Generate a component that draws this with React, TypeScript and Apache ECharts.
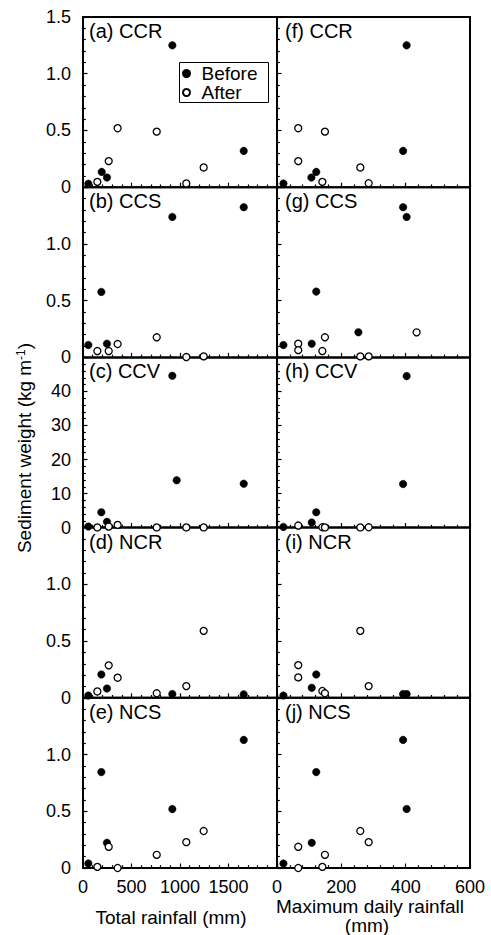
import React, { useEffect, useRef } from 'react';
import * as echarts from 'echarts';

const FONT = '"Liberation Sans", Arial, Helvetica, sans-serif';

// ---------- tick / axis settings ----------
const totalTicks = [0, 500, 1000, 1500, 2000];
const dailyTicks = [0, 200, 400, 600];
const rowMax = [1.5, 1.5, 50, 1.5, 1.5];
const rowInterval = [0.5, 0.5, 10, 0.5, 0.5];

// ---------- (a) CCR, total rainfall ----------
const aBeforeX = [55, 193, 247, 921, 1657];
const aBeforeY = [0.03, 0.135, 0.085, 1.25, 0.32];
const aAfterX = [148, 265, 357, 760, 1065, 1244];
const aAfterY = [0.047, 0.23, 0.52, 0.49, 0.033, 0.174];
// ---------- (f) CCR, max daily rainfall ----------
const fBeforeX = [20, 107, 122, 403, 392];
const fBeforeY = [0.033, 0.085, 0.135, 1.25, 0.32];
const fAfterX = [66, 66, 149, 141, 259, 285];
const fAfterY = [0.52, 0.23, 0.49, 0.047, 0.174, 0.035];

// ---------- (b) CCS ----------
const bBeforeX = [55, 189, 247, 921, 1657];
const bBeforeY = [0.109, 0.577, 0.121, 1.238, 1.324];
const bAfterX = [148, 265, 357, 760, 1065, 1244];
const bAfterY = [0.056, 0.056, 0.118, 0.177, 0.003, 0.009];
// ---------- (g) CCS ----------
const gBeforeX = [20, 108, 122, 253, 392, 403];
const gBeforeY = [0.109, 0.121, 0.58, 0.221, 1.324, 1.238];
const gAfterX = [66, 66, 149, 141, 259, 285, 434];
const gAfterY = [0.121, 0.064, 0.177, 0.056, 0.009, 0.009, 0.221];

// ---------- (c) CCV ----------
const cBeforeX = [55, 189, 247, 921, 966, 1657];
const cBeforeY = [0.3, 4.5, 1.7, 44.6, 13.9, 12.9];
const cAfterX = [148, 265, 357, 760, 1065, 1244];
const cAfterY = [0.05, 0.3, 0.8, 0.05, 0.05, 0.05];
// ---------- (h) CCV ----------
const hBeforeX = [20, 108, 122, 392, 403];
const hBeforeY = [0.2, 1.5, 4.5, 12.8, 44.5];
const hAfterX = [66, 141, 149, 259, 285];
const hAfterY = [0.6, 0.1, 0.05, 0.05, 0.1];

// ---------- (d) NCR ----------
const dBeforeX = [55, 189, 247, 921, 1657];
const dBeforeY = [0.02, 0.206, 0.082, 0.033, 0.03];
const dAfterX = [148, 265, 357, 760, 1065, 1244];
const dAfterY = [0.056, 0.286, 0.177, 0.04, 0.103, 0.59];
// ---------- (i) NCR ----------
const iBeforeX = [20, 108, 122, 392, 403];
const iBeforeY = [0.02, 0.088, 0.206, 0.033, 0.033];
const iAfterX = [66, 66, 141, 149, 259, 285];
const iAfterY = [0.288, 0.18, 0.06, 0.04, 0.59, 0.103];

// ---------- (e) NCS ----------
const eBeforeX = [55, 189, 247, 921, 1657];
const eBeforeY = [0.04, 0.845, 0.222, 0.519, 1.129];
const eAfterX = [148, 265, 357, 760, 1065, 1244];
const eAfterY = [0.01, 0.187, 0.0, 0.116, 0.228, 0.326];
// ---------- (j) NCS ----------
const jBeforeX = [20, 108, 122, 392, 403];
const jBeforeY = [0.04, 0.222, 0.845, 1.129, 0.52];
const jAfterX = [66, 66, 141, 149, 259, 285];
const jAfterY = [0.187, 0.0, 0.01, 0.116, 0.326, 0.228];

const panels = [
  { label: '(a) CCR', row: 0, col: 0, bx: aBeforeX, by: aBeforeY, ax: aAfterX, ay: aAfterY },
  { label: '(b) CCS', row: 1, col: 0, bx: bBeforeX, by: bBeforeY, ax: bAfterX, ay: bAfterY },
  { label: '(c) CCV', row: 2, col: 0, bx: cBeforeX, by: cBeforeY, ax: cAfterX, ay: cAfterY },
  { label: '(d) NCR', row: 3, col: 0, bx: dBeforeX, by: dBeforeY, ax: dAfterX, ay: dAfterY },
  { label: '(e) NCS', row: 4, col: 0, bx: eBeforeX, by: eBeforeY, ax: eAfterX, ay: eAfterY },
  { label: '(f) CCR', row: 0, col: 1, bx: fBeforeX, by: fBeforeY, ax: fAfterX, ay: fAfterY },
  { label: '(g) CCS', row: 1, col: 1, bx: gBeforeX, by: gBeforeY, ax: gAfterX, ay: gAfterY },
  { label: '(h) CCV', row: 2, col: 1, bx: hBeforeX, by: hBeforeY, ax: hAfterX, ay: hAfterY },
  { label: '(i) NCR', row: 3, col: 1, bx: iBeforeX, by: iBeforeY, ax: iAfterX, ay: iAfterY },
  { label: '(j) NCS', row: 4, col: 1, bx: jBeforeX, by: jBeforeY, ax: jAfterX, ay: jAfterY },
];

const zip = (xs: number[], ys: number[]) => xs.map((x, k) => [x, ys[k]]);

const GRID_TOP = 17;
const ROW_H = 170.2;
const COL_LEFT = [83, 277];
const COL_W = [194, 193];

function buildOption() {
  const grid: any[] = [];
  const xAxis: any[] = [];
  const yAxis: any[] = [];
  const series: any[] = [];
  const graphic: any[] = [];

  panels.forEach((p, i) => {
    const top = GRID_TOP + p.row * ROW_H;
    grid.push({
      left: COL_LEFT[p.col],
      top,
      width: COL_W[p.col],
      height: ROW_H,
      show: true,
      borderColor: '#000',
      borderWidth: 2,
      backgroundColor: 'transparent',
    });
    const xt = p.col === 0 ? totalTicks : dailyTicks;
    xAxis.push({
      type: 'value',
      gridIndex: i,
      min: xt[0],
      max: xt[xt.length - 1],
      interval: xt[1] - xt[0],
      axisLine: { show: false },
      splitLine: { show: false },
      axisTick: { show: true, inside: true, length: 4.5, lineStyle: { color: '#000', width: 1.2 } },
      minorTick: { show: true, splitNumber: 5, length: 2.8, lineStyle: { color: '#000', width: 1.2 } },
      minorSplitLine: { show: false },
      axisLabel: {
        show: p.row === 4,
        showMaxLabel: p.col === 1,
        showMinLabel: true,
        margin: 10,
        fontSize: 18,
        lineHeight: 18,
        fontFamily: FONT,
        color: '#000',
        formatter: (v: number) => String(v),
      },
    });
    yAxis.push({
      type: 'value',
      gridIndex: i,
      min: 0,
      max: rowMax[p.row],
      interval: rowInterval[p.row],
      axisLine: { show: false },
      splitLine: { show: false },
      axisTick: { show: true, inside: true, length: 4.5, lineStyle: { color: '#000', width: 1.2 } },
      minorTick: { show: true, splitNumber: 5, length: 2.8, lineStyle: { color: '#000', width: 1.2 } },
      minorSplitLine: { show: false },
      axisLabel: {
        show: p.col === 0,
        showMaxLabel: p.row === 0,
        showMinLabel: true,
        margin: 12,
        fontSize: 18,
        fontFamily: FONT,
        color: '#000',
        formatter: (v: number) => {
          if (v === 0) return '0';
          if (rowMax[p.row] > 5) return String(v);
          return v.toFixed(1);
        },
      },
    });
    series.push({
      type: 'scatter',
      name: 'Before',
      xAxisIndex: i,
      yAxisIndex: i,
      symbol: 'circle',
      symbolSize: 7.5,
      clip: false,
      itemStyle: { color: '#000', borderColor: '#000', borderWidth: 0.5, opacity: 1 },
      data: zip(p.bx, p.by),
      z: 3,
    });
    series.push({
      type: 'scatter',
      name: 'After',
      xAxisIndex: i,
      yAxisIndex: i,
      symbol: 'circle',
      symbolSize: 7,
      clip: false,
      itemStyle: { color: '#fff', borderColor: '#000', borderWidth: 1.3, opacity: 1 },
      data: zip(p.ax, p.ay),
      z: 4,
    });
    graphic.push({
      type: 'text',
      x: p.col === 0 ? 89 : 285,
      y: top + 4,
      style: {
        text: p.label,
        fontSize: 20,
        fontFamily: FONT,
        fill: '#000',
        align: 'left',
        verticalAlign: 'top',
      },
      z: 10,
    });
  });

  // legend frame
  graphic.push({
    type: 'rect',
    shape: { x: 179.5, y: 62.5, width: 89, height: 40 },
    style: { fill: '#fff', stroke: '#000', lineWidth: 1 },
    z: 1,
  });

  graphic.push({
    type: 'text',
    x: 171,
    y: 917,
    style: {
      text: 'Total rainfall (mm)',
      fontSize: 19,
      fontFamily: FONT,
      fill: '#000',
      align: 'center',
      verticalAlign: 'middle',
    },
  });
  graphic.push({
    type: 'text',
    x: 370,
    y: 906.5,
    style: {
      text: 'Maximum daily rainfall',
      fontSize: 19,
      lineHeight: 18,
      fontFamily: FONT,
      fill: '#000',
      align: 'center',
      verticalAlign: 'middle',
    },
  });
  graphic.push({
    type: 'text',
    x: 367,
    y: 925.5,
    style: {
      text: '(mm)',
      fontSize: 19,
      lineHeight: 18,
      fontFamily: FONT,
      fill: '#000',
      align: 'center',
      verticalAlign: 'middle',
    },
  });
  graphic.push({
    type: 'text',
    x: 24,
    y: 448,
    rotation: Math.PI / 2,
    style: {
      text: '{a|Sediment weight (kg m}{b|-1}{a|)}',
      rich: {
        a: { fontSize: 19, fontFamily: FONT, fill: '#000' },
        b: { fontSize: 12, fontFamily: FONT, fill: '#000', verticalAlign: 'top' },
      },
      fill: '#000',
      align: 'center',
      verticalAlign: 'middle',
    },
  });

  return {
    animation: false,
    backgroundColor: '#fff',
    grid,
    xAxis,
    yAxis,
    series,
    graphic,
    legend: {
      data: [
        { name: 'Before', icon: 'circle' },
        { name: 'After', icon: 'circle' },
      ],
      orient: 'vertical',
      left: 179,
      top: 64,
      itemWidth: 20,
      itemHeight: 7,
      itemGap: 0,
      padding: [0, 5, 0, 3],
      selectedMode: false,
      textStyle: { fontSize: 19, fontFamily: FONT, color: '#000', lineHeight: 18 },
      z: 5,
    },
  };
}

export default function App() {
  const ref = useRef<HTMLDivElement>(null);
  useEffect(() => {
    if (!ref.current) return;
    const chart = echarts.init(ref.current, undefined, { renderer: 'svg' });
    chart.setOption(buildOption() as any);
    return () => chart.dispose();
  }, []);
  return (
    <div
      ref={ref}
      style={{ position: 'fixed', left: 0, top: 0, width: 491, height: 935, background: '#fff' }}
    />
  );
}
